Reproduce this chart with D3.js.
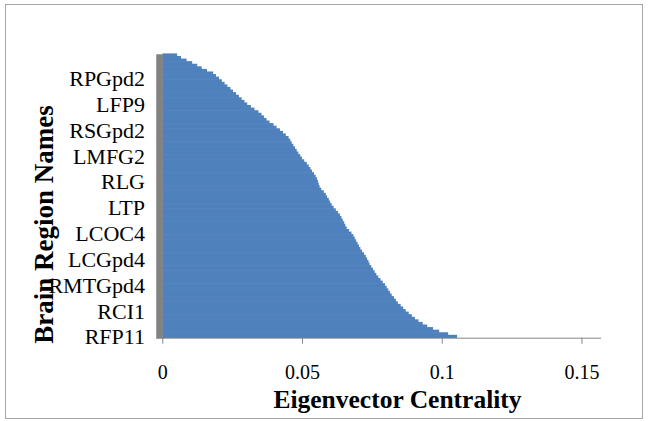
<!DOCTYPE html>
<html>
<head>
<meta charset="utf-8">
<script src="https://cdn.jsdelivr.net/npm/d3@7"></script>
<style>
  html, body { margin: 0; padding: 0; background: #fff; }
  svg { display: block; }
  svg text { font-family: 'Liberation Serif', 'Times New Roman', serif; }
</style>
</head>
<body>
<svg id="chart" width="648" height="421"></svg>
<script>
// Eigenvector centrality per brain region, in category order (first = bottom bar)
const centrality = [
  0.1055, 0.1023, 0.0991, 0.0969, 0.0948, 0.0932, 0.0917, 0.0904, 0.0893, 0.0882,
  0.0871, 0.0862, 0.0853, 0.0843, 0.0836, 0.0829, 0.0821, 0.0815, 0.0809, 0.0803,
  0.0797, 0.0789, 0.0781, 0.0773, 0.0766, 0.0760, 0.0754, 0.0748, 0.0742, 0.0738,
  0.0733, 0.0728, 0.0722, 0.0715, 0.0709, 0.0704, 0.0699, 0.0694, 0.0689, 0.0684,
  0.0677, 0.0668, 0.0660, 0.0655, 0.0651, 0.0646, 0.0641, 0.0636, 0.0629, 0.0621,
  0.0613, 0.0606, 0.0601, 0.0596, 0.0590, 0.0585, 0.0578, 0.0569, 0.0563, 0.0560,
  0.0557, 0.0554, 0.0549, 0.0543, 0.0536, 0.0530, 0.0524, 0.0517, 0.0508, 0.0500,
  0.0494, 0.0487, 0.0481, 0.0475, 0.0469, 0.0463, 0.0458, 0.0452, 0.0442, 0.0432,
  0.0421, 0.0409, 0.0398, 0.0384, 0.0373, 0.0364, 0.0355, 0.0344, 0.0330, 0.0317,
  0.0304, 0.0294, 0.0284, 0.0274, 0.0264, 0.0253, 0.0244, 0.0233, 0.0223, 0.0213,
  0.0203, 0.0192, 0.0182, 0.0160, 0.0141, 0.0125, 0.0107, 0.0087, 0.0067, 0.0053
];

// Region names shown on the axis (every tenth category, starting with the first)
const labelledRegions = [
  "RFP11", "RCI1", "RMTGpd4", "LCGpd4", "LCOC4", "LTP",
  "RLG", "LMFG2", "RSGpd2", "LFP9", "RPGpd2"
];

const xTicks = [0, 0.05, 0.1, 0.15];
const xTitle = "Eigenvector Centrality";
const yTitle = "Brain Region Names";

const svg = d3.select("#chart");
const serif = "'Liberation Serif', 'Times New Roman', serif";

// chart frame
svg.append("rect")
  .attr("x", 5.5).attr("y", 4.5)
  .attr("width", 637).attr("height", 414)
  .attr("fill", "#fff")
  .attr("stroke", "#a6a6a6")
  .attr("stroke-width", 1);

const plot = { left: 162.3, top: 53.7, bottom: 337.7, right: 601 };

const categories = d3.range(1, centrality.length + 1);

const x = d3.scaleLinear()
  .domain([0, 0.157])
  .range([plot.left, plot.right]);

const y = d3.scaleBand()
  .domain(categories)
  .range([plot.bottom, plot.top])
  .paddingInner(0)
  .paddingOuter(0);

// bars
svg.append("g")
  .selectAll("rect")
  .data(centrality)
  .join("rect")
  .attr("x", x(0))
  .attr("y", (d, i) => y(i + 1) - 0.3)
  .attr("width", d => x(d) - x(0))
  .attr("height", y.bandwidth() + 0.6)
  .attr("fill", "#4f81bd");

// x axis
const xAxis = svg.append("g")
  .attr("transform", `translate(0,${plot.bottom})`)
  .call(d3.axisBottom(x)
    .tickValues(xTicks)
    .tickFormat(d => d3.format("")(+d.toFixed(2)))
    .tickSizeInner(6)
    .tickSizeOuter(0)
    .tickPadding(21))
  .attr("font-family", null)
  .attr("font-size", null);
xAxis.select(".domain")
  .attr("d", `M156,0.5H${plot.right}`)
  .attr("stroke", "#868686");
xAxis.selectAll(".tick line").attr("stroke", "#868686");
xAxis.selectAll(".tick text")
  .style("font-family", serif)
  .style("font-size", "20px")
  .attr("fill", "#000");

// y axis: a thick grey spine with every tenth region named
const labelIndex = new Map(labelledRegions.map((name, k) => [1 + 10 * k, name]));
const yAxis = svg.append("g")
  .attr("transform", `translate(${plot.left - 3.3},0)`)
  .call(d3.axisLeft(y)
    .tickValues([...labelIndex.keys()])
    .tickFormat(d => labelIndex.get(d))
    .tickSize(0)
    .tickPadding(14))
  .attr("font-family", null)
  .attr("font-size", null);
yAxis.select(".domain")
  .attr("stroke", "#828282")
  .attr("stroke-width", 6.5);
yAxis.selectAll(".tick text")
  .style("font-family", serif)
  .style("font-size", "22px")
  .attr("fill", "#000")
  .attr("dy", "0.36em");

// axis titles
svg.append("text")
  .attr("x", 397.5)
  .attr("y", 408)
  .attr("text-anchor", "middle")
  .style("font-family", serif)
  .style("font-weight", "bold")
  .style("font-size", "25.5px")
  .attr("fill", "#000")
  .text(xTitle);

svg.append("text")
  .attr("transform", "translate(53,224.5) rotate(-90)")
  .attr("text-anchor", "middle")
  .style("font-family", serif)
  .style("font-weight", "bold")
  .style("font-size", "27px")
  .attr("fill", "#000")
  .text(yTitle);
</script>
</body>
</html>
